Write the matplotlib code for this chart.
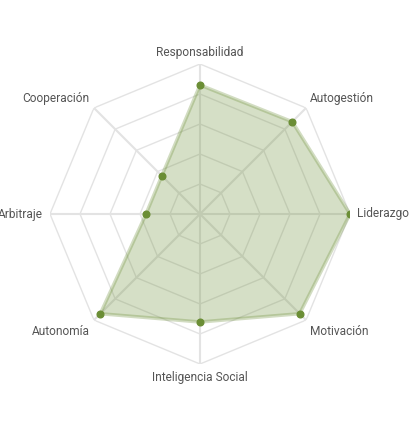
import numpy as np
import matplotlib
matplotlib.use("Agg")
import matplotlib.pyplot as plt

categories = ["Responsabilidad", "Autogestión", "Liderazgo", "Motivación",
              "Inteligencia Social", "Autonomía", "Arbitraje", "Cooperación"]
values = [86, 87, 100, 94, 72, 94, 36, 36]
levels = [20, 40, 60, 80, 100]

plt.rcParams['font.family'] = ['Roboto', 'DejaVu Sans']

W, H = 409, 430
fig = plt.figure(figsize=(W / 100, H / 100), dpi=100)
cx, cy, R = 200, 214, 150
ax = fig.add_axes([(cx - R) / W, (H - cy - R) / H, 2 * R / W, 2 * R / H], projection='polar')
ax.set_theta_offset(np.pi / 2)
ax.set_theta_direction(-1)
ax.set_ylim(0, 100)
ax.grid(False)
ax.spines['polar'].set_visible(False)
ax.set_xticks([])
ax.set_yticks([])
ax.patch.set_visible(False)

n = len(categories)
theta = np.arange(n) * 2 * np.pi / n
tc = np.append(theta, theta[0])

grid_color = '#e3e3e3'
for lv in levels:
    ax.plot(tc, [lv] * (n + 1), color=grid_color, lw=1.0, zorder=1)
for t in theta:
    ax.plot([t, t], [0, 100], color=grid_color, lw=1.5, zorder=1)

vc = values + values[:1]
green = '#6b8e35'
ax.fill(tc, vc, color=green, alpha=0.28, lw=0, zorder=2)
ax.plot(tc, vc, color=green, alpha=0.3, lw=2.5, zorder=3)
ax.plot(theta, values, 'o', color=green, ms=4.8, mec=green, zorder=4)

offsets = [((0, 11.5), 'center'), ((4, 9), 'left'), ((7, 0), 'left'), ((4, -11), 'left'),
           ((0, -13), 'center'), ((-4, -11), 'right'), ((-7, 0), 'right'), ((-5, 9), 'right')]
for t, lab, (off, ha) in zip(theta, categories, offsets):
    ax.annotate(lab, xy=(t, 100), xytext=off, textcoords='offset pixels',
                ha=ha, va='center', fontsize=8.6, color='#555555', annotation_clip=False)

fig.savefig('out.png', dpi=100)
